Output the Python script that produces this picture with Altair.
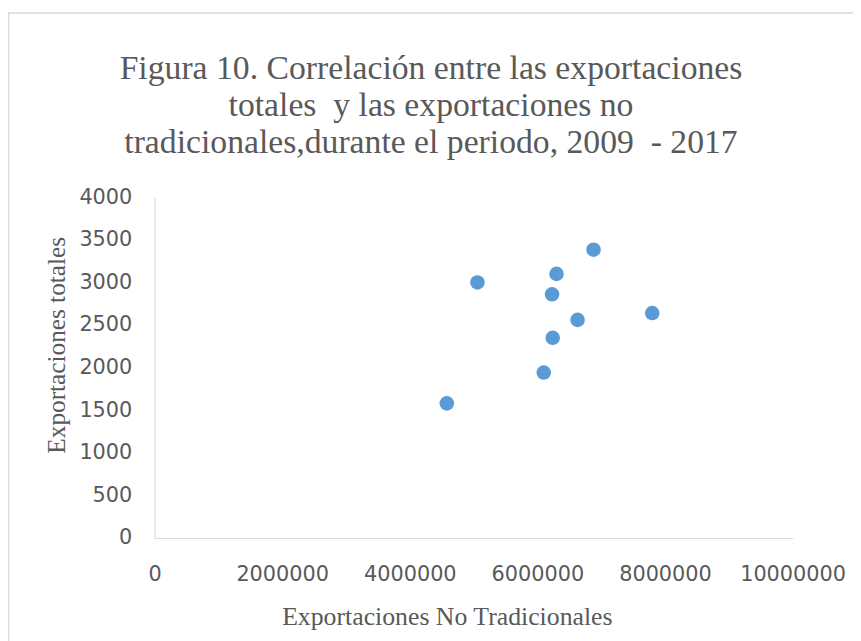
import altair as alt
import pandas as pd

no_tradicionales = [4580000, 5060000, 6100000, 6240000, 6230000, 6300000, 6630000, 6880000, 7800000]
totales = [1580, 3000, 1942, 2350, 2860, 3100, 2560, 3384, 2640]

x_ticks = [0, 2000000, 4000000, 6000000, 8000000, 10000000]
y_ticks = [0, 500, 1000, 1500, 2000, 2500, 3000, 3500, 4000]

title_lines = [
    "Figura 10. Correlación entre las exportaciones",
    "totales \u00a0y las exportaciones no",
    "tradicionales,durante el periodo, 2009 \u00a0- 2017",
]

df = pd.DataFrame({"x": no_tradicionales, "y": totales})

GRAY = "#595959"
AXIS = "#D9D9D9"

points = alt.Chart(df).mark_circle(size=215, opacity=1, color="#5B9BD5").encode(
    x=alt.X(
        "x:Q",
        scale=alt.Scale(domain=[0, 10000000], nice=False),
        axis=alt.Axis(
            values=x_ticks, format="d", title="Exportaciones No Tradicionales",
            labelFont="DejaVu Sans", labelFontSize=21, labelColor=GRAY, labelPadding=26,
            titleFont="Liberation Serif", titleFontSize=26, titleFontWeight="normal", titleColor=GRAY,
            titleX=295, titleY=79, titleAlign="center", titleBaseline="middle",
            ticks=False, grid=False, domainColor=AXIS, labelFlush=False,
        ),
    ),
    y=alt.Y(
        "y:Q",
        scale=alt.Scale(domain=[0, 4000], nice=False),
        axis=alt.Axis(
            values=y_ticks, format="d", title="Exportaciones totales",
            labelFont="DejaVu Sans", labelFontSize=21, labelColor=GRAY, labelPadding=23,
            titleFont="Liberation Serif", titleFontSize=25.5, titleFontWeight="normal", titleColor=GRAY,
            titleX=-99, titleY=149, titleAlign="center", titleBaseline="middle", titleAngle=-90,
            ticks=False, grid=False, domainColor=AXIS, labelFlush=False,
        ),
    ),
)

frame = alt.Chart(pd.DataFrame({"a": [0]})).mark_rect(
    fill=None, stroke="#D9D9D9", strokeWidth=1.5
).encode(
    x=alt.value(-147.5), x2=alt.value(760), y=alt.value(-186), y2=alt.value(500)
)

chart = alt.layer(frame, points).properties(
    width=644,
    height=344,
    padding={"left": 148, "top": 188, "right": 61, "bottom": 101},
    autosize=alt.AutoSizeParams(type="none"),
    title=alt.TitleParams(
        text=title_lines, font="Liberation Serif", fontSize=34, fontWeight="normal",
        color=GRAY, lineHeight=37.5, anchor="middle", dx=-43, offset=-149, frame="group",
    ),
).configure(background="white").configure_view(strokeWidth=0, stroke="transparent")

chart.save("out.html", embed_options={"renderer": "svg", "actions": False})
